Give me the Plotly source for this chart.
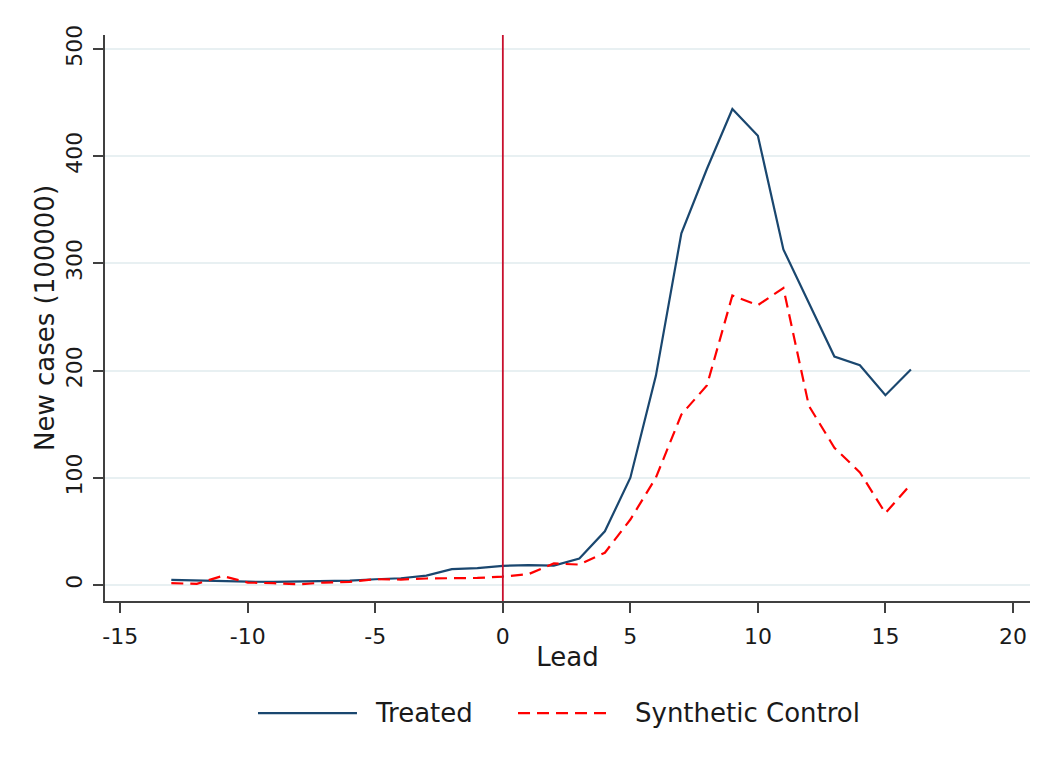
import plotly.graph_objects as go

lead = list(range(-13, 17))
treated = [4.7, 4.0, 3.4, 3.0, 2.8, 3.0, 3.7, 4.0, 5.3, 6.2, 8.7, 14.7, 15.6, 17.8, 18.4, 18.0,
           24.7, 50, 100, 195, 328, 388, 444, 419, 313, 263, 213, 205, 177, 201]
synthetic = [1.6, 1.0, 8.4, 2.2, 1.6, 0.6, 2.2, 2.8, 5.3, 5.0, 6.0, 6.0, 6.5, 7.8, 10.0, 20.0,
             19.0, 30, 61, 100, 159, 186, 270, 261, 277, 167, 128, 105, 67, 94]
x_ticks = [-15, -10, -5, 0, 5, 10, 15, 20]
x_tick_text = ["-15", "-10", "-5", "0", "5", "10", "15", "20"]
y_ticks = [0, 100, 200, 300, 400, 500]
series_names = ["Treated", "Synthetic Control"]

FONT = "DejaVu Sans"
TXT = "#1a1a1a"
NAVY = "#1a476f"
RED = "#ff0000"
DASH = "12px,7px"

fig = go.Figure()
fig.add_trace(go.Scatter(x=lead, y=treated, mode="lines", name=series_names[0],
                         line=dict(color=NAVY, width=2.2)))
fig.add_trace(go.Scatter(x=lead, y=synthetic, mode="lines", name=series_names[1],
                         line=dict(color=RED, width=2.2, dash=DASH)))

# treatment start marker
fig.add_shape(type="line", xref="x", yref="paper", x0=0, x1=0, y0=0, y1=1,
              line=dict(color="#c8102e", width=1.8), layer="above")

# legend drawn below the plot (paper coordinates)
leg_y = -0.198
fig.add_shape(type="line", xref="paper", yref="paper", x0=0.1654, x1=0.2724, y0=leg_y, y1=leg_y,
              line=dict(color=NAVY, width=2.2))
fig.add_shape(type="line", xref="paper", yref="paper", x0=0.4465, x1=0.5481, y0=leg_y, y1=leg_y,
              line=dict(color=RED, width=2.2, dash=DASH))
fig.add_annotation(xref="paper", yref="paper", x=0.2897, y=leg_y, xanchor="left", yanchor="middle",
                   text=series_names[0], showarrow=False, font=dict(size=26, color=TXT))
fig.add_annotation(xref="paper", yref="paper", x=0.5708, y=leg_y, xanchor="left", yanchor="middle",
                   text=series_names[1], showarrow=False, font=dict(size=26, color=TXT))

fig.update_layout(
    width=1032, height=757,
    margin=dict(l=97, r=10, t=27, b=164),
    paper_bgcolor="white", plot_bgcolor="white",
    font=dict(family=FONT, size=22, color=TXT),
    showlegend=False,
    xaxis=dict(range=[-15.6, 20.67], tickmode="array", tickvals=x_ticks, ticktext=x_tick_text,
               automargin=False,
               showgrid=False, zeroline=False, showline=True, linecolor="#404040",
               linewidth=1.5, ticks="outside", ticklen=10, tickcolor="#404040",
               tickwidth=1.5, tickfont=dict(size=22), ticklabelstandoff=5,
               title=dict(text="Lead", font=dict(size=26), standoff=0)),
    yaxis=dict(range=[-15, 513], tickmode="array", tickvals=y_ticks,
               automargin=False,
               showgrid=True, gridcolor="#e8f0f2", gridwidth=1.5,
               zeroline=False, showline=True, linecolor="#404040",
               linewidth=1.5, ticks="outside", ticklen=10, tickcolor="#404040",
               tickwidth=1.5, tickangle=-90, tickfont=dict(size=22), ticklabelstandoff=2,
               title=dict(text="New cases (100000)", font=dict(size=26), standoff=0)),
)

fig.write_html("out.html")
